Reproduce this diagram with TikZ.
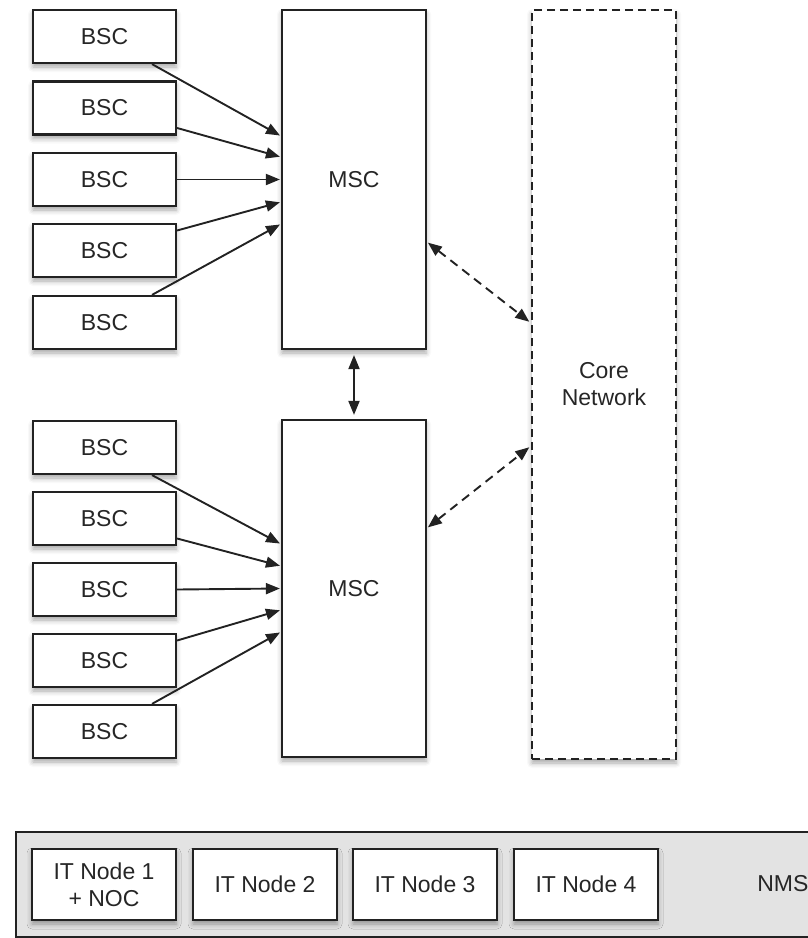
\documentclass[tikz,border=0pt]{standalone}
\usepackage{fontspec}
\setmainfont{Liberation Sans}
\usetikzlibrary{arrows.meta,shadows.blur}
\definecolor{ln}{HTML}{222222}
\definecolor{tx}{HTML}{262626}
\definecolor{bar}{HTML}{E3E3E3}
\begin{document}
\begin{tikzpicture}[x=1pt,y=-1pt,
  font=\fontsize{23}{27}\selectfont,
  shad/.style={blur shadow={shadow xshift=0pt,shadow yshift=-4pt,shadow blur radius=5pt,shadow opacity=35}},
  box/.style={draw=ln,line width=2.2pt,fill=white,text=tx,inner sep=0pt,align=center,minimum width=143pt,shad},
  bsc/.style={box,minimum height=53pt},
  msc/.style={box,minimum width=144pt},
  core/.style={box,minimum width=144pt,dash pattern=on 8pt off 5pt},
  itn/.style={box,minimum width=144pt,minimum height=71pt,shad/.style={}},
  arr/.style={draw=ln,line width=1.9pt,-{Triangle[length=14pt,width=11pt]},shorten >=1pt},
  darr/.style={draw=ln,line width=1.9pt,{Triangle[length=14pt,width=11pt]}-{Triangle[length=14pt,width=11pt]}},
  dsh/.style={darr,dash pattern=on 9pt off 6pt}]
\useasboundingbox (0,0) rectangle (807,938);
% NMS bar
\node[draw=ln,line width=2.2pt,fill=bar,minimum width=840pt,minimum height=105pt,inner sep=0pt,anchor=north west] (nms) at (15,831) {};
\node[text=tx,anchor=east] (nmsl) at (812,884) {NMS};
\node[itn] (it1) at (104,884.5) {IT Node 1\\+ NOC};
\node[itn] (it2) at (265,884.5) {IT Node 2};
\node[itn] (it3) at (425,884.5) {IT Node 3};
\node[itn] (it4) at (586,884.5) {IT Node 4};
% BSCs
\node[bsc] (b1) at (104.5,36.5) {BSC};
\node[bsc] (b2) at (104.5,108) {BSC};
\node[bsc] (b3) at (104.5,179.5) {BSC};
\node[bsc] (b4) at (104.5,250.5) {BSC};
\node[bsc] (b5) at (104.5,322.5) {BSC};
\node[bsc] (b6) at (104.5,447.5) {BSC};
\node[bsc] (b7) at (104.5,518.5) {BSC};
\node[bsc] (b8) at (104.5,589.5) {BSC};
\node[bsc] (b9) at (104.5,660.5) {BSC};
\node[bsc] (b10) at (104.5,731.5) {BSC};
% MSCs and core
\node[msc,minimum height=339pt] (m1) at (354,179.5) {MSC};
\node[msc,minimum height=337pt] (m2) at (354,588.5) {MSC};
\node[core,minimum height=749pt] (core) at (604,384.5) {Core\\Network};
% arrows upper
\draw[arr] ([xshift=47.5pt]b1.south) -- ([yshift=43.5pt]m1.west);
\draw[arr] ([yshift=-20pt]b2.east) -- ([yshift=22.5pt]m1.west);
\draw[arr] (b3.east) -- (m1.west);
\draw[arr] ([yshift=20pt]b4.east) -- ([yshift=-22.5pt]m1.west);
\draw[arr] ([xshift=47.5pt]b5.north) -- ([yshift=-44.5pt]m1.west);
% arrows lower
\draw[arr] ([xshift=47.5pt]b6.south) -- ([yshift=44.5pt]m2.west);
\draw[arr] ([yshift=-20pt]b7.east) -- ([yshift=22.5pt]m2.west);
\draw[arr] (b8.east) -- (m2.west);
\draw[arr] ([yshift=20pt]b9.east) -- ([yshift=-21.5pt]m2.west);
\draw[arr] ([xshift=47.5pt]b10.north) -- ([yshift=-43.5pt]m2.west);
% MSC-MSC
\draw[darr,shorten <=5pt,shorten >=4pt] (m1.south) -- (m2.north);
% to core
\draw[dsh,shorten <=1pt,shorten >=2pt] ([yshift=-62.5pt]m1.east) -- ([yshift=61.5pt]core.west);
\draw[dsh,shorten <=1pt,shorten >=2pt] ([yshift=60.5pt]m2.east) -- ([yshift=-61.5pt]core.west);
\end{tikzpicture}
\end{document}
